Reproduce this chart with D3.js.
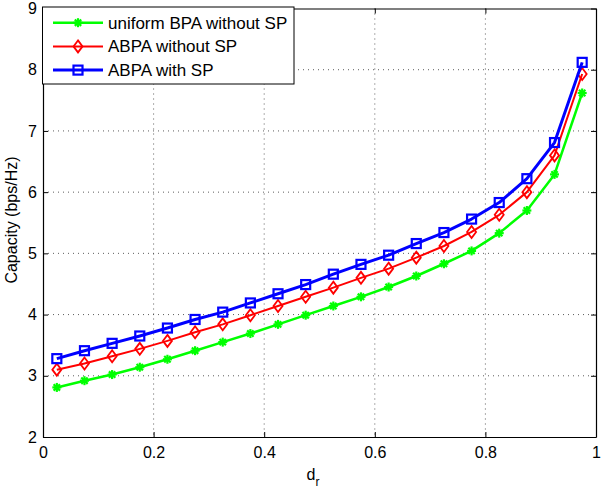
<!DOCTYPE html>
<html><head><meta charset="utf-8">
<script src="https://cdn.jsdelivr.net/npm/d3@7"></script>
<style>body{margin:0;background:#fff;} svg{display:block;font-family:"Liberation Sans",Arial,sans-serif;}</style>
</head><body>
<svg id="c" width="605" height="498"></svg>
<script>
const xs = [0.025,0.075,0.125,0.175,0.225,0.275,0.325,0.375,0.425,0.475,0.525,0.575,0.625,0.675,0.725,0.775,0.825,0.875,0.925,0.975];
const uniformBPA = [2.81,2.92,3.02,3.14,3.27,3.41,3.55,3.69,3.84,3.99,4.14,4.29,4.45,4.63,4.83,5.04,5.33,5.70,6.29,7.62];
const abpaNoSP   = [3.10,3.20,3.32,3.44,3.57,3.71,3.84,3.99,4.14,4.29,4.44,4.60,4.75,4.93,5.12,5.35,5.63,6.00,6.60,7.93];
const abpaSP     = [3.28,3.41,3.53,3.65,3.78,3.92,4.04,4.19,4.34,4.49,4.66,4.82,4.97,5.16,5.34,5.56,5.83,6.22,6.81,8.12];
const xTicks = [0,0.2,0.4,0.6,0.8,1];
const xTickLabels = ["0","0.2","0.4","0.6","0.8","1"];
const yTicks = [2,3,4,5,6,7,8,9];
const seriesNames = ["uniform BPA without SP","ABPA without SP","ABPA with SP"];

const L=43, R=596, T=8.5, B=437;
const svg=d3.select("#c");
const x=d3.scaleLinear().domain([0,1]).range([L,R]);
const y=d3.scaleLinear().domain([2,9]).range([B,T]);

// grid
const g=svg.append("g");
xTicks.slice(1,-1).forEach(t=>g.append("line").attr("x1",x(t)).attr("x2",x(t)).attr("y1",T).attr("y2",B)
  .attr("stroke","#333").attr("stroke-width",0.8).attr("stroke-dasharray","1,4"));
yTicks.slice(1,-1).forEach(t=>g.append("line").attr("x1",L).attr("x2",R).attr("y1",y(t)).attr("y2",y(t))
  .attr("stroke","#333").attr("stroke-width",0.8).attr("stroke-dasharray","1,4"));

// axes
const axB=svg.append("g").attr("transform",`translate(0,${B})`).call(d3.axisBottom(x).tickValues(xTicks).tickFormat((d,i)=>xTickLabels[i]).tickSizeInner(-5).tickSizeOuter(0).tickPadding(10));
const axL=svg.append("g").attr("transform",`translate(${L},0)`).call(d3.axisLeft(y).tickValues(yTicks).tickFormat(d3.format("d")).tickSizeInner(-5).tickSizeOuter(0).tickPadding(6));
const axT=svg.append("g").attr("transform",`translate(0,${T})`).call(d3.axisTop(x).tickValues(xTicks).tickFormat("").tickSizeInner(-5).tickSizeOuter(0));
const axR=svg.append("g").attr("transform",`translate(${R},0)`).call(d3.axisRight(y).tickValues(yTicks).tickFormat("").tickSizeInner(-5).tickSizeOuter(0));
[axB,axL,axT,axR].forEach(a=>{a.select(".domain").attr("stroke","#000").attr("stroke-width",1.2);
  a.selectAll(".tick line").attr("stroke","#000");
  a.selectAll("text").attr("font-size",16).attr("fill","#000").attr("font-family","Liberation Sans, Arial, sans-serif");});

// labels
svg.append("text").attr("x",313).attr("y",480).attr("text-anchor","middle").attr("font-size",16)
  .text("d").append("tspan").attr("dy",6).attr("font-size",12).text("r");
svg.append("text").attr("transform",`translate(16.5,220) rotate(-90)`).attr("text-anchor","middle").attr("font-size",16).text("Capacity (bps/Hz)");

// series
const series=[
 {name:seriesNames[0],vals:uniformBPA,color:"#00ff00",lw:2.5,marker:"star"},
 {name:seriesNames[1],vals:abpaNoSP,color:"#ff0000",lw:2,marker:"diamond"},
 {name:seriesNames[2],vals:abpaSP,color:"#0000ff",lw:3,marker:"square"}];

function drawMarker(sel,type,cx,cy,color){
  if(type==="star"){
    const r=4.5;
    for(let k=0;k<4;k++){const a=k*Math.PI/4;
      sel.append("line").attr("x1",cx-r*Math.cos(a)).attr("y1",cy-r*Math.sin(a)).attr("x2",cx+r*Math.cos(a)).attr("y2",cy+r*Math.sin(a))
        .attr("stroke",color).attr("stroke-width",2.2);}
    sel.append("circle").attr("cx",cx).attr("cy",cy).attr("r",2.5).attr("fill",color);
  } else if(type==="diamond"){
    sel.append("path").attr("d",`M${cx},${cy-6}L${cx+4.5},${cy}L${cx},${cy+6}L${cx-4.5},${cy}Z`)
      .attr("fill","none").attr("stroke",color).attr("stroke-width",1.8);
  } else {
    sel.append("rect").attr("x",cx-4.5).attr("y",cy-4.5).attr("width",9).attr("height",9)
      .attr("fill","none").attr("stroke",color).attr("stroke-width",2.2);
  }
}
const line=d3.line().x((d,i)=>x(xs[i])).y(d=>y(d));
series.forEach(s=>{
  const gs=svg.append("g");
  gs.append("path").attr("d",line(s.vals)).attr("fill","none").attr("stroke",s.color).attr("stroke-width",s.lw).attr("stroke-linejoin","round");
  s.vals.forEach((v,i)=>drawMarker(gs,s.marker,x(xs[i]),y(v),s.color));
});

// legend
const lg=svg.append("g");
lg.append("rect").attr("x",42.5).attr("y",7).attr("width",251.5).attr("height",77).attr("fill","#fff").attr("stroke","#000").attr("stroke-width",1);
series.forEach((s,i)=>{
  const yy=22.7+i*23.7;
  lg.append("line").attr("x1",53).attr("x2",103).attr("y1",yy).attr("y2",yy).attr("stroke",s.color).attr("stroke-width",s.lw);
  drawMarker(lg,s.marker,78,yy,s.color);
  lg.append("text").attr("x",108).attr("y",yy+5.8).attr("font-size",17).text(s.name);
});
</script>
</body></html>
